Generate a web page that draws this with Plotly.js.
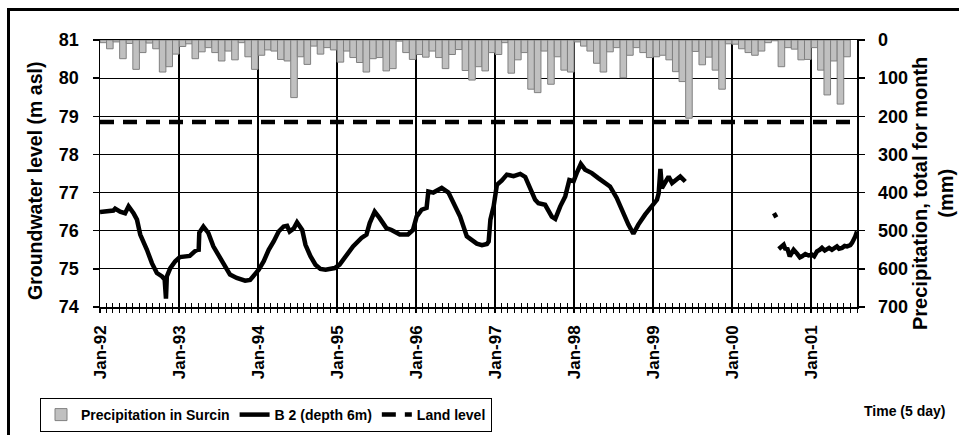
<!DOCTYPE html>
<html>
<head>
<meta charset="utf-8">
<script src="https://cdn.plot.ly/plotly-3.0.1.min.js"></script>
<style>
  html, body { margin: 0; padding: 0; background: #fff; overflow: hidden; }
  #wrap { position: relative; width: 959px; height: 435px; }
  #chart { width: 959px; height: 435px; }
  #frame { position: absolute; left: 7px; top: 8px; width: 1000px; height: 1000px;
           border: 3px solid #000; pointer-events: none; box-sizing: border-box; }
</style>
</head>
<body>
<div id="wrap">
  <div id="chart"></div>
  <div id="frame"></div>
</div>
<script>
// ---- Monthly precipitation in Surcin (mm), one array per year ----
const precipYears = [1992, 1993, 1994, 1995, 1996, 1997, 1998, 1999, 2000, 2001];
const p1992 = [7, 23, 5, 49, 9, 77, 33, 8, 23, 84, 70, 37];
const p1993 = [17, 10, 49, 31, 20, 33, 55, 29, 52, 7, 44, 77];
const p1994 = [40, 26, 29, 51, 55, 151, 44, 64, 16, 37, 20, 26];
const p1995 = [58, 29, 46, 59, 84, 49, 46, 81, 75, 3, 33, 51];
const p1996 = [38, 45, 29, 46, 75, 38, 25, 80, 105, 70, 81, 33];
const p1997 = [38, 7, 87, 52, 33, 129, 138, 29, 116, 44, 79, 84];
const p1998 = [5, 16, 29, 61, 84, 31, 20, 99, 40, 20, 33, 46];
const p1999 = [44, 40, 52, 83, 109, 205, 30, 65, 45, 79, 129, 10];
const p2000 = [11, 23, 33, 40, 29, 7, 2, 70, 20, 24, 52, 51];
const p2001 = [20, 79, 144, 55, 168, 44];
const precipByYear = [p1992, p1993, p1994, p1995, p1996, p1997, p1998, p1999, p2000, p2001];

// ---- Groundwater level B 2 (depth 6m), m asl ----
const gwDates = [
 '1992-01-01','1992-01-20','1992-02-10','1992-03-03','1992-03-11','1992-04-03','1992-04-26','1992-05-12',
 '1992-06-04','1992-06-20','1992-07-05','1992-07-20','1992-08-05','1992-08-28','1992-09-20','1992-10-14',
 '1992-10-26','1992-11-01','1992-11-05','1992-11-21','1992-12-14',
 '1993-01-04','1993-02-19','1993-03-14','1993-03-30','1993-04-01','1993-04-04','1993-04-23','1993-05-16',
 '1993-06-08','1993-07-01','1993-07-24','1993-08-24','1993-09-24','1993-11-02','1993-11-25','1993-12-18',
 '1994-01-04','1994-01-27','1994-02-19','1994-03-14','1994-04-06','1994-04-29','1994-05-15','1994-05-27',
 '1994-06-15','1994-06-30','1994-07-24','1994-08-08','1994-08-31','1994-09-23','1994-10-16','1994-11-09',
 '1994-12-02','1994-12-21',
 '1995-01-13','1995-02-13','1995-03-16','1995-04-24','1995-05-17','1995-06-01','1995-06-24','1995-07-17',
 '1995-08-17','1995-09-10','1995-10-18','1995-11-25','1995-12-18',
 '1996-01-04','1996-01-27','1996-02-19','1996-02-27','1996-03-21','1996-04-13','1996-04-29','1996-05-30',
 '1996-06-22','1996-07-23','1996-08-23','1996-09-15','1996-10-08','1996-11-01','1996-11-24','1996-12-02',
 '1996-12-10','1996-12-25',
 '1997-01-09','1997-02-01','1997-02-24','1997-03-27','1997-04-27','1997-05-20','1997-06-12','1997-07-05',
 '1997-07-20','1997-08-20','1997-09-20','1997-10-06','1997-10-29','1997-11-21','1997-12-10','1997-12-30',
 '1998-01-13','1998-02-01','1998-02-21','1998-03-24','1998-04-23','1998-05-24','1998-06-16','1998-07-17',
 '1998-08-09','1998-09-09','1998-10-02','1998-10-25','1998-11-25','1998-12-26',
 '1999-01-19','1999-01-27','1999-02-04','1999-02-11','1999-02-27','1999-03-14','1999-03-30','1999-04-14',
 '1999-05-07','1999-05-30','1999-06-01',
 '2000-07-13','2000-07-24','2000-07-29',
 '2000-08-04','2000-08-15','2000-08-27','2000-09-05','2000-09-12','2000-09-24','2000-10-05','2000-10-12',
 '2000-10-28','2000-11-10','2000-11-20','2000-12-05','2000-12-20',
 '2001-01-05','2001-01-15','2001-01-28','2001-02-10','2001-02-20','2001-03-05','2001-03-15','2001-03-25',
 '2001-04-07','2001-04-20','2001-04-30','2001-05-10','2001-05-24','2001-06-05','2001-06-16','2001-07-01',
 '2001-07-09','2001-07-24','2001-08-01'
];
const gwLevels = [
 76.49,76.50,76.52,76.53,76.58,76.50,76.46,76.64,
 76.46,76.29,75.90,75.72,75.50,75.15,74.89,74.80,
 74.72,74.22,74.80,75.02,75.20,
 75.31,75.34,75.46,75.50,75.45,75.95,76.11,75.94,
 75.59,75.37,75.15,74.85,74.76,74.69,74.71,74.85,
 74.98,75.20,75.50,75.72,75.98,76.11,76.13,75.98,
 76.06,76.22,76.02,75.63,75.33,75.11,75.00,74.98,
 75.00,75.02,
 75.11,75.37,75.59,75.81,75.90,76.20,76.50,76.33,
 76.07,76.02,75.90,75.90,76.02,
 76.37,76.55,76.60,77.03,77.00,77.09,77.12,77.00,
 76.72,76.37,75.85,75.77,75.66,75.62,75.65,75.72,
 76.29,76.64,
 77.20,77.32,77.47,77.43,77.49,77.41,77.12,76.81,
 76.72,76.68,76.37,76.31,76.64,76.90,77.33,77.30,
 77.51,77.75,77.60,77.51,77.38,77.27,77.16,76.86,
 76.55,76.16,75.92,76.16,76.42,76.64,
 76.81,76.98,77.62,77.12,77.30,77.42,77.25,77.33,
 77.42,77.29,null,
 76.46,76.35,null,
 75.52,75.58,75.63,75.50,75.55,75.33,75.45,75.50,
 75.40,75.30,75.33,75.39,75.35,
 75.37,75.33,75.46,75.50,75.55,75.48,75.50,75.55,
 75.50,75.57,75.59,75.53,75.55,75.60,75.59,75.62,
 75.68,75.85,75.98
];

// ---- Land level ----
const landDates = ['1992-01-01', '2001-08-01'];
const landLevel = [78.85, 78.85];

const xRange = ['1992-01-01', '2001-08-01'];

// build monthly x positions from the year arrays
const precipX = [], precipY = [];
precipYears.forEach((yr, i) => {
  precipByYear[i].forEach((v, m) => {
    precipX.push(yr + '-' + String(m + 1).padStart(2, '0') + '-01');
    precipY.push(v);
  });
});

const FONT = 'Liberation Sans, Arial, sans-serif';

const traces = [
  {
    type: 'bar', name: 'Precipitation in Surcin',
    x: precipX, y: precipY, xperiod: 'M1', xperiodalignment: 'middle',
    width: 30.4 * 86400000,
    yaxis: 'y2',
    marker: { color: '#c0c0c0', line: { color: '#808080', width: 1 } },
    hoverinfo: 'skip'
  },
  {
    type: 'scatter', mode: 'lines', name: 'B 2 (depth 6m)',
    x: gwDates, y: gwLevels, connectgaps: false,
    line: { color: '#000', width: 4.5 },
    hoverinfo: 'skip'
  },
  {
    type: 'scatter', mode: 'lines', name: 'Land level',
    x: landDates, y: landLevel, xaxis: 'x2',
    line: { color: '#000', width: 4.5, dash: '14px,9px' },
    hoverinfo: 'skip'
  }
];

const W = 959, H = 435, L = 100, R = 102, T = 40, B = 128;
const pw = W - L - R, ph = H - T - B;
const px = (v) => (v - L) / pw;
const py = (v) => (H - B - v) / ph;

const layout = {
  width: W, height: H,
  margin: { l: L, r: R, t: T, b: B, pad: 0, autoexpand: false },
  paper_bgcolor: '#fff', plot_bgcolor: '#fff',
  font: { family: FONT, color: '#000' },
  showlegend: true,
  bargap: 0,
  xaxis: {
    type: 'date', range: xRange, autorange: false,
    tick0: '1992-01-01', dtick: 'M12', tickformat: '%b-%y', tickangle: -90,
    tickfont: { family: FONT, size: 17, weight: 'bold', color: '#000' },
    ticks: 'outside', ticklen: 4, tickwidth: 1.5, tickcolor: '#000',
    showgrid: true, gridcolor: '#000', gridwidth: 1.5,
    showline: true, linecolor: '#000', linewidth: 1.5, mirror: true,
    zeroline: false, ticklabelstandoff: 6,
    minor: { dtick: 'M1', tick0: '1992-01-01', ticks: 'outside', ticklen: 4, tickwidth: 1, tickcolor: '#000', showgrid: false }
  },
  xaxis2: {
    type: 'date', range: xRange, autorange: false, overlaying: 'x', anchor: 'y', side: 'bottom',
    showticklabels: false, ticks: '', showgrid: false, showline: false, zeroline: false,
    tick0: '1992-01-01', dtick: 'M12',
    minor: { dtick: 'M1', tick0: '1992-01-01', ticks: 'inside', ticklen: 4, tickwidth: 1, tickcolor: '#000', showgrid: false }
  },
  yaxis: {
    range: [74, 81], autorange: false, dtick: 1, tick0: 74,
    tickfont: { family: FONT, size: 18, weight: 'bold', color: '#000' },
    ticks: 'outside', ticklen: 6, tickwidth: 1.5, tickcolor: '#000', ticklabelstandoff: 10,
    showgrid: true, gridcolor: '#000', gridwidth: 1,
    showline: true, linecolor: '#000', linewidth: 1.5, zeroline: false
  },
  yaxis2: {
    range: [700, 0], autorange: false, dtick: 100, tick0: 0,
    overlaying: 'y', side: 'right', anchor: 'x',
    tickfont: { family: FONT, size: 18, weight: 'bold', color: '#000' },
    ticks: 'outside', ticklen: 6, tickwidth: 1.5, tickcolor: '#000', ticklabelstandoff: 10,
    showgrid: false, showline: true, linecolor: '#000', linewidth: 1.5, zeroline: false
  },
  legend: {
    orientation: 'h', x: px(40), xanchor: 'left', y: py(398), yanchor: 'top',
    bgcolor: '#fff', bordercolor: '#000', borderwidth: 1,
    font: { family: FONT, size: 14, weight: 'bold', color: '#000' },
    itemwidth: 30, tracegroupgap: 0, traceorder: 'normal'
  },
  annotations: [
    {
      text: 'Groundwater level (m asl)', textangle: -90, showarrow: false,
      xref: 'paper', yref: 'paper', x: px(35), y: py(181), xanchor: 'center', yanchor: 'middle',
      font: { family: FONT, size: 19.5, weight: 'bold', color: '#000' }
    },
    {
      text: 'Precipitation, total for month<br>(mm)', textangle: -90, showarrow: false,
      xref: 'paper', yref: 'paper', x: px(933), y: py(194), xanchor: 'center', yanchor: 'middle',
      font: { family: FONT, size: 20, weight: 'bold', color: '#000' }
    },
    {
      text: 'Time (5 day)', showarrow: false,
      xref: 'paper', yref: 'paper', x: px(862), y: py(411), xanchor: 'left', yanchor: 'middle',
      font: { family: FONT, size: 14, weight: 'bold', color: '#000' }
    }
  ]
};

Plotly.newPlot('chart', traces, layout, { staticPlot: true, displayModeBar: false });
</script>
</body>
</html>
